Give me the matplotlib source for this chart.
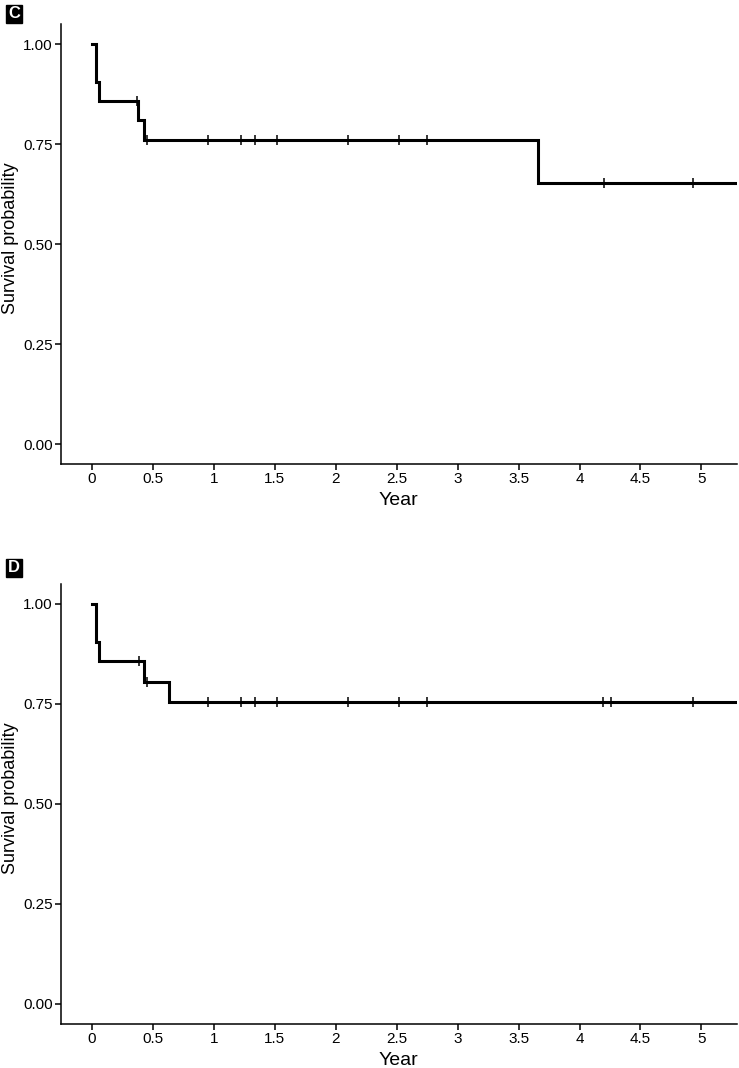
import matplotlib.pyplot as plt
import numpy as np

plt.rcParams['font.family'] = ['Liberation Sans', 'DejaVu Sans']

# step curves: times where survival drops, and the survival after each drop
c_times = [0.0, 0.033, 0.06, 0.38, 0.43, 3.66, 5.3]
c_surv = [1.0, 0.905, 0.857, 0.810, 0.760, 0.652, 0.652]
c_cens_t = [0.37, 0.45, 0.95, 1.22, 1.34, 1.52, 2.10, 2.52, 2.75, 4.20, 4.93]

d_times = [0.0, 0.033, 0.06, 0.43, 0.63, 5.3]
d_surv = [1.0, 0.905, 0.857, 0.806, 0.755, 0.755]
d_cens_t = [0.39, 0.45, 0.95, 1.22, 1.34, 1.52, 2.10, 2.52, 2.75, 4.19, 4.26, 4.93]

x_ticks = [0, 0.5, 1, 1.5, 2, 2.5, 3, 3.5, 4, 4.5, 5]
x_ticklabels = ['0', '0.5', '1', '1.5', '2', '2.5', '3', '3.5', '4', '4.5', '5']
y_ticks = [0, 0.25, 0.5, 0.75, 1.0]
y_ticklabels = ['0.00', '0.25', '0.50', '0.75', '1.00']


def surv_at(times, surv, t):
    idx = np.searchsorted(times, t, side='right') - 1
    return np.array(surv)[idx]


def km_panel(ax, times, surv, cens_t):
    ax.step(times, surv, where='post', color='black', lw=2.2, solid_joinstyle='miter')
    ax.plot(cens_t, surv_at(times, surv, cens_t), ls='none', marker='|',
            color='black', ms=7, mew=1.1)
    ax.set_xlim(-0.254, 5.29)
    ax.set_ylim(-0.05, 1.05)
    ax.set_xticks(x_ticks)
    ax.set_xticklabels(x_ticklabels)
    ax.set_yticks(y_ticks)
    ax.set_yticklabels(y_ticklabels)
    for s in ['top', 'right']:
        ax.spines[s].set_visible(False)
    for s in ['left', 'bottom']:
        ax.spines[s].set_linewidth(1.1)
    ax.tick_params(labelsize=11, width=1.1, length=4, color='black', labelcolor='black', pad=2)
    ax.set_xlabel('Year', fontsize=14)
    ax.xaxis.set_label_coords(0.5, -0.082)
    ax.xaxis.label.set_va('center')
    ax.set_ylabel('Survival probability', fontsize=13)
    ax.yaxis.set_label_coords(-0.0754, 0.514)
    ax.yaxis.label.set_va('center')


fig = plt.figure(figsize=(7.39, 10.68), dpi=100)
ax1 = fig.add_axes([0.0825, 0.5655, 0.9145, 0.412])
ax2 = fig.add_axes([0.0825, 0.0412, 0.9145, 0.412])

km_panel(ax1, c_times, c_surv, c_cens_t)
km_panel(ax2, d_times, d_surv, d_cens_t)

for lab, y in [('C', 1 - 14 / 1068), ('D', 1 - 568 / 1068)]:
    fig.text(14 / 739, y, lab, color='white', fontsize=12, fontweight='bold',
             ha='center', va='center',
             bbox=dict(boxstyle='square,pad=0.1', fc='black', ec='black'))

fig.savefig('out.png', dpi=100)
